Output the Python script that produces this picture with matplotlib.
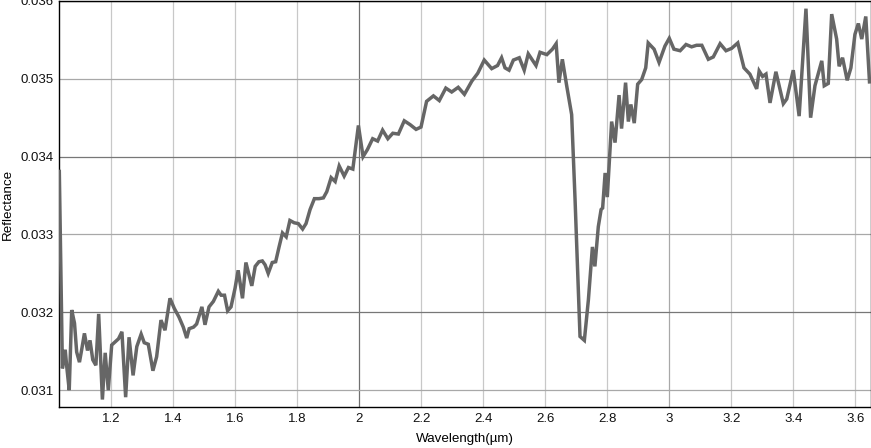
import numpy as np
import matplotlib
matplotlib.use("Agg")
from matplotlib import pyplot as plt
from matplotlib.ticker import FuncFormatter

# spectrum (wavelength in um, reflectance)
wavelength = [
    1.032, 1.042, 1.051, 1.056, 1.064, 1.072, 1.081, 1.088, 1.097, 1.105,
    1.113, 1.123, 1.131, 1.140, 1.150, 1.159, 1.171, 1.180, 1.190, 1.201,
    1.212, 1.223, 1.234, 1.246, 1.257, 1.270, 1.282, 1.296, 1.306, 1.319,
    1.334, 1.346, 1.360, 1.373, 1.389, 1.403, 1.418, 1.432, 1.443, 1.451,
    1.465, 1.475, 1.492, 1.502, 1.515, 1.529, 1.545, 1.554, 1.565, 1.575,
    1.586, 1.599, 1.609, 1.623, 1.634, 1.653, 1.664, 1.676, 1.687, 1.696,
    1.706, 1.719, 1.730, 1.741, 1.752, 1.764, 1.776, 1.790, 1.803, 1.817,
    1.828, 1.841, 1.855, 1.870, 1.884, 1.895, 1.909, 1.922, 1.935, 1.951,
    1.965, 1.979, 1.997, 2.012, 2.026, 2.043, 2.059, 2.075, 2.092, 2.108,
    2.126, 2.145, 2.164, 2.183, 2.199, 2.217, 2.239, 2.258, 2.279, 2.298,
    2.319, 2.339, 2.363, 2.382, 2.403, 2.427, 2.446, 2.459, 2.470, 2.483,
    2.497, 2.516, 2.532, 2.545, 2.570, 2.583, 2.605, 2.623, 2.635, 2.644,
    2.655, 2.669, 2.685, 2.696, 2.712, 2.726, 2.739, 2.752, 2.760, 2.771,
    2.780, 2.785, 2.793, 2.800, 2.814, 2.825, 2.838, 2.846, 2.859, 2.868,
    2.876, 2.887, 2.898, 2.911, 2.924, 2.932, 2.951, 2.967, 2.986, 3.000,
    3.015, 3.035, 3.054, 3.072, 3.088, 3.105, 3.126, 3.142, 3.164, 3.183,
    3.201, 3.221, 3.241, 3.260, 3.282, 3.290, 3.301, 3.312, 3.325, 3.344,
    3.368, 3.379, 3.400, 3.419, 3.441, 3.456, 3.470, 3.492, 3.500, 3.513,
    3.524, 3.540, 3.548, 3.559, 3.574, 3.586, 3.599, 3.610, 3.621, 3.634,
    3.646,
]
reflectance = [
    0.03381, 0.03128, 0.03152, 0.03130, 0.03100, 0.03203, 0.03186, 0.03149, 0.03136, 0.03154,
    0.03173, 0.03151, 0.03164, 0.03139, 0.03132, 0.03198, 0.03088, 0.03148, 0.03100, 0.03158,
    0.03162, 0.03166, 0.03175, 0.03091, 0.03168, 0.03119, 0.03156, 0.03172, 0.03161, 0.03159,
    0.03125, 0.03143, 0.03190, 0.03177, 0.03218, 0.03205, 0.03194, 0.03181, 0.03167, 0.03179,
    0.03181, 0.03185, 0.03207, 0.03184, 0.03207, 0.03214, 0.03227, 0.03222, 0.03222, 0.03202,
    0.03207, 0.03231, 0.03254, 0.03218, 0.03264, 0.03234, 0.03259, 0.03265, 0.03266, 0.03261,
    0.03250, 0.03264, 0.03265, 0.03284, 0.03302, 0.03297, 0.03318, 0.03315, 0.03314, 0.03307,
    0.03314, 0.03332, 0.03346, 0.03346, 0.03347, 0.03355, 0.03373, 0.03368, 0.03388, 0.03375,
    0.03386, 0.03384, 0.03440, 0.03400, 0.03409, 0.03423, 0.03420, 0.03434, 0.03423, 0.03430,
    0.03429, 0.03446, 0.03441, 0.03435, 0.03438, 0.03471, 0.03478, 0.03472, 0.03488, 0.03483,
    0.03489, 0.03480, 0.03497, 0.03507, 0.03524, 0.03513, 0.03517, 0.03527, 0.03514, 0.03511,
    0.03524, 0.03527, 0.03511, 0.03532, 0.03517, 0.03534, 0.03531, 0.03538, 0.03545, 0.03495,
    0.03525, 0.03491, 0.03454, 0.03345, 0.03169, 0.03164, 0.03216, 0.03284, 0.03259, 0.03310,
    0.03332, 0.03334, 0.03379, 0.03348, 0.03445, 0.03418, 0.03479, 0.03436, 0.03495, 0.03445,
    0.03467, 0.03443, 0.03493, 0.03499, 0.03514, 0.03546, 0.03538, 0.03521, 0.03542, 0.03552,
    0.03538, 0.03536, 0.03544, 0.03541, 0.03543, 0.03543, 0.03525, 0.03528, 0.03545, 0.03536,
    0.03539, 0.03546, 0.03514, 0.03506, 0.03487, 0.03510, 0.03503, 0.03506, 0.03469, 0.03509,
    0.03468, 0.03474, 0.03511, 0.03452, 0.03590, 0.03450, 0.03491, 0.03523, 0.03491, 0.03494,
    0.03583, 0.03551, 0.03516, 0.03527, 0.03498, 0.03514, 0.03557, 0.03571, 0.03551, 0.03580,
    0.03496,
]

xticks = [1.2, 1.4, 1.6, 1.8, 2.0, 2.2, 2.4, 2.6, 2.8, 3.0, 3.2, 3.4, 3.6]
yticks = [0.031, 0.032, 0.033, 0.034, 0.035, 0.036]

plt.rcParams['font.family'] = ['Liberation Sans', 'DejaVu Sans']

fig = plt.figure(figsize=(8.71, 4.48), dpi=100)
ax = fig.add_axes([0.0681, 0.0908, 0.9316, 0.9072])

ax.set_xlim(1.032, 3.65)
ax.set_ylim(0.03078, 0.036)

# grid: lines on "round" values look darker in the reference
for x in xticks:
    c = '#707070' if abs(x - 2.0) < 1e-9 else ('#a8a8a8' if abs(x - 3.0) < 1e-9 else '#c8c8c8')
    ax.axvline(x, color=c, lw=0.9, zorder=0)
for y in yticks:
    c = '#777777' if round(y * 1000) % 2 == 0 else '#a8a8a8'
    ax.axhline(y, color=c, lw=0.9, zorder=0)

ax.plot(wavelength, reflectance, color='#666666', lw=2.5, solid_joinstyle='miter', zorder=3)

ax.set_xticks(xticks)
ax.set_yticks(yticks)
ax.xaxis.set_major_formatter(FuncFormatter(lambda v, p: ('%g' % round(v, 3))))
ax.yaxis.set_major_formatter(FuncFormatter(lambda v, p: ('%.3f' % v)))
ax.tick_params(length=0, labelsize=9.5, pad=4, colors='#111111')

for s in ax.spines.values():
    s.set_color('black')
    s.set_linewidth(1.0)

ax.set_xlabel('Wavelength(µm)', fontsize=9.6, labelpad=6)
ax.set_ylabel('Reflectance', fontsize=9.6, labelpad=5)

fig.savefig('out.png', dpi=100)
